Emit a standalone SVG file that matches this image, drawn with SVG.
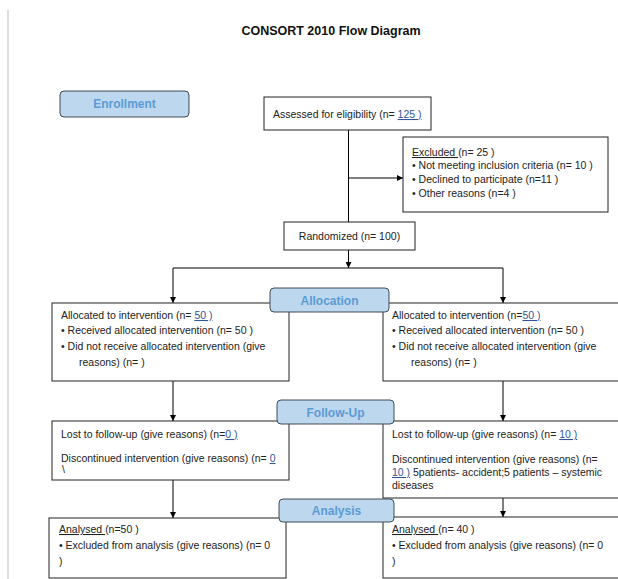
<svg xmlns="http://www.w3.org/2000/svg" width="618" height="579" viewBox="0 0 618 579">
<defs>
<marker id="arr" viewBox="0 0 10 10" refX="10" refY="5" markerWidth="6" markerHeight="6" orient="auto" markerUnits="userSpaceOnUse">
<path d="M0,0 L10,5 L0,10 z" fill="#000"/>
</marker>
<style>
.box{fill:#fff;stroke:#222;stroke-width:1}
.lbl{fill:#bdd7ee;stroke:#3f4a55;stroke-width:1}
.lt{font-family:"Liberation Sans",Arial,sans-serif;font-weight:bold;font-size:12px;fill:#5b9bd5;text-anchor:middle}
.t{font-family:"Liberation Sans",Arial,sans-serif;font-size:10.5px;fill:#222}
.u{fill:#2f5597;text-decoration:underline}
.ul{text-decoration:underline}
.ln{fill:none;stroke:#000;stroke-width:1}
</style>
</defs>
<rect width="618" height="579" fill="#fff"/>
<line x1="8" y1="10" x2="8" y2="579" stroke="#d4d4d4" stroke-width="1.5"/>
<text x="331" y="35" font-family="'Liberation Sans',Arial,sans-serif" font-weight="bold" font-size="12.5" fill="#111" text-anchor="middle">CONSORT 2010 Flow Diagram</text>

<g id="connectors">
<line class="ln" x1="348.5" y1="130" x2="348.5" y2="222"/>
<line class="ln" x1="348.5" y1="178" x2="403" y2="178" marker-end="url(#arr)"/>
<line class="ln" x1="348.5" y1="250" x2="348.5" y2="268" marker-end="url(#arr)"/>
<line class="ln" x1="173" y1="268" x2="503" y2="268"/>
<line class="ln" x1="173" y1="268" x2="173" y2="303" marker-end="url(#arr)"/>
<line class="ln" x1="503" y1="268" x2="503" y2="303" marker-end="url(#arr)"/>
<line class="ln" x1="173" y1="381" x2="173" y2="421" marker-end="url(#arr)"/>
<line class="ln" x1="503" y1="381" x2="503" y2="421" marker-end="url(#arr)"/>
<line class="ln" x1="173" y1="480" x2="173" y2="518" marker-end="url(#arr)"/>
<line class="ln" x1="503" y1="497" x2="503" y2="517" marker-end="url(#arr)"/>
</g>

<g id="enrollment">
<rect class="lbl" x="60" y="91" width="129" height="26" rx="4"/>
<text class="lt" x="124.5" y="108">Enrollment</text>
</g>

<g id="assessed">
<rect class="box" x="264" y="97" width="167" height="33"/>
<text class="t" x="273" y="118">Assessed for eligibility (n= <tspan class="u">125 )</tspan></text>
</g>

<g id="excluded">
<rect class="box" x="403" y="137" width="205" height="75"/>
<text class="t" x="412" y="156"><tspan class="ul">Excluded  </tspan>(n= 25  )</text>
<text class="t" x="412" y="169">•  Not meeting inclusion criteria (n= 10 )</text>
<text class="t" x="412" y="183">•  Declined to participate (n=11  )</text>
<text class="t" x="412" y="197">•  Other reasons (n=4  )</text>
</g>

<g id="randomized">
<rect class="box" x="284" y="222" width="131" height="28"/>
<text class="t" x="349.5" y="240" text-anchor="middle">Randomized (n= 100)</text>
</g>

<g id="alloc-left">
<rect class="box" x="52" y="303" width="237" height="78"/>
<text class="t" x="61" y="319">Allocated to intervention (n= <tspan class="u">50 )</tspan></text>
<text class="t" x="61" y="334">•  Received allocated intervention (n= 50 )</text>
<text class="t" x="61" y="350">•  Did not receive allocated intervention (give</text>
<text class="t" x="79" y="366">reasons) (n=  )</text>
</g>

<g id="alloc-right">
<rect class="box" x="383" y="303" width="245" height="78"/>
<text class="t" x="392" y="319">Allocated to intervention (n=<tspan class="u">50  )</tspan></text>
<text class="t" x="392" y="334">•  Received allocated intervention (n= 50 )</text>
<text class="t" x="392" y="350">•  Did not receive allocated intervention (give</text>
<text class="t" x="411" y="366">reasons) (n=  )</text>
</g>

<g id="allocation">
<rect class="lbl" x="270" y="288" width="119" height="24" rx="4"/>
<text class="lt" x="329.5" y="305">Allocation</text>
</g>

<g id="followup-left">
<rect class="box" x="52" y="421" width="237" height="59"/>
<text class="t" x="61" y="438">Lost to follow-up (give reasons) (n=<tspan class="u">0  )</tspan></text>
<text class="t" x="61" y="462">Discontinued intervention (give reasons) (n= <tspan class="u">0</tspan></text>
<text class="t" x="62" y="473" font-size="6">\</text>
</g>

<g id="followup-right">
<rect class="box" x="383" y="421" width="245" height="77"/>
<text class="t" x="392" y="438">Lost to follow-up (give reasons) (n= <tspan class="u">10 )</tspan></text>
<text class="t" x="392" y="463">Discontinued intervention (give reasons) (n=</text>
<text class="t" x="392" y="476"><tspan class="u">10 )</tspan> 5patients- accident;5 patients – systemic</text>
<text class="t" x="392" y="489">diseases</text>
</g>

<g id="followup">
<rect class="lbl" x="277" y="400" width="117" height="24" rx="4"/>
<text class="lt" x="335.5" y="417">Follow-Up</text>
</g>

<g id="analysis-left">
<rect class="box" x="49" y="518" width="237" height="60"/>
<text class="t" x="59" y="533"><tspan class="ul">Analysed  </tspan>(n=50  )</text>
<text class="t" x="59" y="549">•  Excluded from analysis (give reasons) (n= 0</text>
<text class="t" x="59" y="565">)</text>
</g>

<g id="analysis-right">
<rect class="box" x="383" y="517" width="245" height="61"/>
<text class="t" x="392" y="533"><tspan class="ul">Analysed  </tspan>(n= 40 )</text>
<text class="t" x="392" y="549">•  Excluded from analysis (give reasons) (n= 0</text>
<text class="t" x="392" y="565">)</text>
</g>

<g id="analysis">
<rect class="lbl" x="279" y="499" width="115" height="23" rx="4"/>
<text class="lt" x="336.5" y="515">Analysis</text>
</g>
</svg>
